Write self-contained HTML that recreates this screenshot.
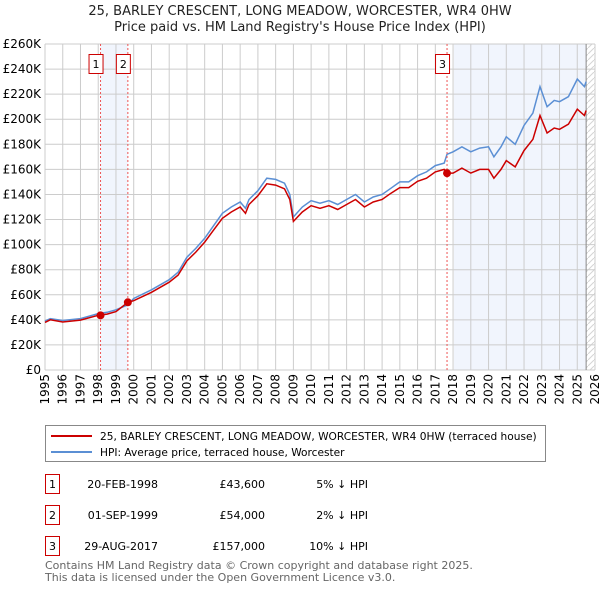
<!DOCTYPE html>
<html><head><meta charset="utf-8"><style>
body{margin:0;background:#fff;font-family:"Liberation Sans","DejaVu Sans",sans-serif;}
svg text{font-family:"DejaVu Sans","Liberation Sans",sans-serif;}
</style></head><body>
<svg id="c" width="600" height="590" xmlns="http://www.w3.org/2000/svg">
<text x="300" y="15" text-anchor="middle" font-size="13" fill="#222">25, BARLEY CRESCENT, LONG MEADOW, WORCESTER, WR4 0HW</text>
<text x="300" y="31" text-anchor="middle" font-size="13" fill="#222">Price paid vs. HM Land Registry's House Price Index (HPI)</text>
<g id="grid"></g><g id="marks"></g>
<g>
<rect x="45.5" y="425.5" width="500" height="36" fill="#fff" stroke="#888"/>
<line x1="51" y1="436" x2="92" y2="436" stroke="#cc0000" stroke-width="2"/>
<text x="100" y="440" font-size="10.6" fill="#000">25, BARLEY CRESCENT, LONG MEADOW, WORCESTER, WR4 0HW (terraced house)</text>
<line x1="51" y1="452" x2="92" y2="452" stroke="#5b8fd4" stroke-width="2"/>
<text x="100" y="456" font-size="10.6" fill="#000">HPI: Average price, terraced house, Worcester</text>
</g>
<g font-size="11" fill="#000">
<rect x="45.5" y="474.5" width="14" height="19" fill="#fff" stroke="#cc0000"/><text x="52.5" y="488" text-anchor="middle">1</text>
<text x="158" y="488" text-anchor="end">20-FEB-1998</text><text x="265" y="488" text-anchor="end">£43,600</text><text x="368" y="488" text-anchor="end">5% ↓ HPI</text>
<rect x="45.5" y="505.5" width="14" height="19" fill="#fff" stroke="#cc0000"/><text x="52.5" y="519" text-anchor="middle">2</text>
<text x="158" y="519" text-anchor="end">01-SEP-1999</text><text x="265" y="519" text-anchor="end">£54,000</text><text x="368" y="519" text-anchor="end">2% ↓ HPI</text>
<rect x="45.5" y="536.5" width="14" height="19" fill="#fff" stroke="#cc0000"/><text x="52.5" y="550" text-anchor="middle">3</text>
<text x="158" y="550" text-anchor="end">29-AUG-2017</text><text x="265" y="550" text-anchor="end">£157,000</text><text x="368" y="550" text-anchor="end">10% ↓ HPI</text>
</g>
<text x="45" y="569" font-size="11" fill="#666">Contains HM Land Registry data © Crown copyright and database right 2025.</text>
<text x="45" y="581" font-size="11" fill="#666">This data is licensed under the Open Government Licence v3.0.</text>
</svg>
<script>
const hpiYears=[1995,1995.3,1996,1997,1998,1998.5,1999,1999.67,2000,2001,2002,2002.5,2003,2003.5,2004,2004.5,2005,2005.5,2006,2006.3,2006.5,2007,2007.5,2008,2008.5,2008.8,2009,2009.5,2010,2010.5,2011,2011.5,2012,2012.5,2013,2013.5,2014,2014.5,2015,2015.5,2016,2016.5,2017,2017.5,2017.66,2018,2018.5,2019,2019.5,2020,2020.3,2020.7,2021,2021.5,2022,2022.5,2022.9,2023.3,2023.7,2024,2024.5,2025,2025.4,2025.5];
const hpiValues=[39,41,39.5,41,45,46,48,52,57,64,72,78,90,97,105,115,125,130,134,129,136,143,153,152,149,140,122,130,135,133,135,132,136,140,134,138,140,145,150,150,155,158,163,165,172,174,178,174,177,178,170,178,186,180,195,205,226,210,215,214,218,232,226,230];
const priceValues=[38,40,38.3,39.8,43.6,44.6,46.6,54,55.3,62,70,75.7,87,94,102,111.5,121,126,130,125,132,139,148.5,147.5,144.5,136,118.5,126,131,129,131,128,132,136,130,134,136,141,145.5,145.5,150.5,153,158,160,157,157,161,157,160,160,153,160,167,162,175,184,203,189,193,192,196,208,203,207];
const saleYears=[1998.13,1999.67,2017.66];
const salePrices=[43.6,54,157];
const saleLabels=["1","2","3"];
const yTicks=[0,20,40,60,80,100,120,140,160,180,200,220,240,260];
const xTicks=[1995,1996,1997,1998,1999,2000,2001,2002,2003,2004,2005,2006,2007,2008,2009,2010,2011,2012,2013,2014,2015,2016,2017,2018,2019,2020,2021,2022,2023,2024,2025,2026];
const X0=45,X1=595,Y0=370,Y1=44;
const xs=y=>X0+(y-1995)/31*(X1-X0);
const ys=v=>Y0-v/260*(Y0-Y1);
const NS="http://www.w3.org/2000/svg";
function mk(t,a,p){const e=document.createElementNS(NS,t);for(const k in a)e.setAttribute(k,a[k]);p.appendChild(e);return e;}
const g=document.getElementById('grid'),m=document.getElementById('marks');
let s=mk('rect',{x:xs(saleYears[0]),y:Y1,width:xs(saleYears[1])-xs(saleYears[0]),height:Y0-Y1,fill:'#f1f5fd'},g);


s=mk('rect',{x:xs(saleYears[2])+7,y:Y1,width:xs(2025.5)-xs(saleYears[2])-7,height:Y0-Y1,fill:'#f1f5fd'},g);


const pat=mk('pattern',{id:'h',width:6,height:6,patternUnits:'userSpaceOnUse'},mk('defs',{},g));
mk('path',{d:'M0,6 L6,0',stroke:'#d4d4d4','stroke-width':1},pat);
s=mk('rect',{x:xs(2025.5),y:Y1,width:X1-xs(2025.5),height:Y0-Y1,fill:'url(#h)'},g);


yTicks.forEach(v=>{
 mk('line',{x1:X0,x2:X1,y1:ys(v),y2:ys(v),stroke:'#ccc'},g);
 const t=mk('text',{x:X0-4,y:ys(v)+4,'text-anchor':'end','font-size':12,fill:'#000'},g);
 t.textContent=v===0?'£0':'£'+v+'K';
 
 
});
xTicks.forEach(y=>{
 mk('line',{x1:xs(y),x2:xs(y),y1:Y1,y2:Y0,stroke:'#ccc'},g);
 const t=mk('text',{transform:`translate(${xs(y)+4},${Y0+4}) rotate(-90)`,'text-anchor':'end','font-size':12,fill:'#000'},g);
 t.textContent=y;
 
 
});
mk('line',{x1:xs(2025.5),x2:xs(2025.5),y1:Y1,y2:Y0,stroke:'#888'},g);
const line=(vals,col,name)=>{const p=mk('path',{d:hpiYears.map((y,i)=>(i?'L':'M')+xs(y).toFixed(1)+','+ys(vals[i]).toFixed(1)).join(''),fill:'none',stroke:col,'stroke-width':1.5},m);
 
 };
line(hpiValues,'#5b8fd4','hpi-line');
line(priceValues,'#cc0000','price-paid-line');
saleYears.forEach((y,i)=>{
 mk('line',{x1:xs(y),x2:xs(y),y1:Y1,y2:Y0,stroke:'#e55','stroke-dasharray':'2,2'},m);
 const c=mk('circle',{cx:xs(y),cy:ys(salePrices[i]),r:4,fill:'#cc0000'},m);
 
 
 mk('rect',{x:xs(y)-11.5,y:54.5,width:14,height:19,fill:'#fff',stroke:'#cc0000'},m);
 const t=mk('text',{x:xs(y)-4.5,y:68,'text-anchor':'middle','font-size':11,fill:'#000'},m);
 t.textContent=saleLabels[i];
 
 
});
</script>
</body></html>
